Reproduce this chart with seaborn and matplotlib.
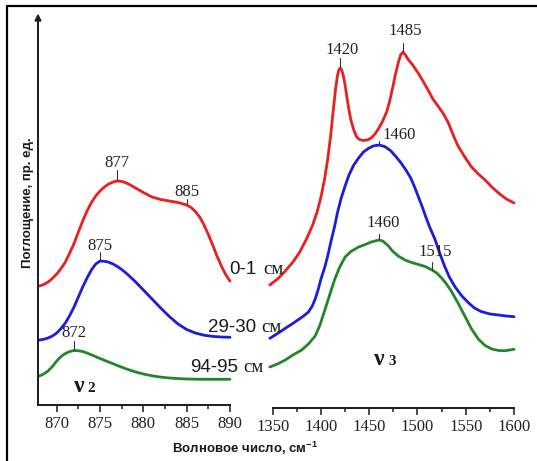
import numpy as np
import pandas as pd
import matplotlib
matplotlib.use("Agg")
import matplotlib.pyplot as plt
from matplotlib.lines import Line2D
from matplotlib.ticker import MultipleLocator
import seaborn as sns

# ---------------- data ----------------
depths = ["0-1 см", "29-30 см", "94-95 см"]
colors = ["#e8201f", "#1c1cdc", "#23872a"]

# nu2 region (wavenumber, absorbance)
nu2_wn_top = [868.0, 868.5, 869.0, 869.5, 870.0, 870.5, 871.0, 871.5, 872.0, 872.5,
              873.0, 873.5, 874.0, 874.5, 875.0, 875.5, 876.0, 876.5, 877.0, 877.5,
              878.0, 878.5, 879.0, 880.0, 881.0, 882.0, 883.0, 884.0, 885.0, 885.5,
              886.0, 886.5, 887.0, 887.5, 888.0, 888.5, 889.0, 889.5, 890.0]
nu2_ab_top = [1.190, 1.205, 1.230, 1.265, 1.310, 1.365, 1.430, 1.520, 1.615, 1.730,
              1.840, 1.940, 2.025, 2.090, 2.140, 2.180, 2.210, 2.230, 2.240, 2.236,
              2.222, 2.200, 2.175, 2.125, 2.080, 2.055, 2.040, 2.025, 2.000, 1.975,
              1.935, 1.880, 1.800, 1.705, 1.600, 1.490, 1.390, 1.305, 1.240]

nu2_wn_mid = [868.0, 868.5, 869.0, 869.5, 870.0, 870.5, 871.0, 871.5, 872.0, 872.5,
              873.0, 873.5, 874.0, 874.5, 875.0, 875.5, 876.0, 876.5, 877.0, 877.5,
              878.0, 879.0, 880.0, 881.0, 882.0, 883.0, 884.0, 885.0, 886.0, 887.0,
              888.0, 889.0, 890.0]
nu2_ab_mid = [0.650, 0.657, 0.670, 0.690, 0.720, 0.765, 0.820, 0.895, 0.980, 1.080,
              1.180, 1.270, 1.350, 1.410, 1.440, 1.437, 1.428, 1.410, 1.385, 1.355,
              1.320, 1.240, 1.150, 1.060, 0.970, 0.885, 0.810, 0.755, 0.720, 0.698,
              0.686, 0.680, 0.677]

nu2_wn_low = [868.0, 868.5, 869.0, 869.5, 870.0, 870.5, 871.0, 871.5, 872.0, 872.5,
              873.0, 873.5, 874.0, 875.0, 876.0, 877.0, 878.0, 879.0, 880.0, 881.0,
              882.0, 883.0, 884.0, 885.0, 886.0, 888.0, 890.0]
nu2_ab_low = [0.290, 0.310, 0.340, 0.385, 0.440, 0.485, 0.515, 0.535, 0.545, 0.543,
              0.535, 0.520, 0.502, 0.465, 0.430, 0.395, 0.362, 0.333, 0.310, 0.292,
              0.279, 0.270, 0.264, 0.260, 0.258, 0.257, 0.257]

# nu3 region
nu3_wn_top = [1347, 1355, 1363, 1371, 1378, 1385, 1391, 1396, 1400, 1404, 1407, 1410,
              1413, 1415, 1417, 1418.5, 1420, 1421.5, 1423, 1425, 1427, 1429, 1431, 1434,
              1437, 1440, 1444, 1448, 1452, 1456, 1460, 1464, 1468, 1471, 1474, 1477,
              1480, 1482.5, 1485, 1487.5, 1490, 1495, 1500, 1505, 1511, 1516, 1522, 1527,
              1532, 1537, 1542, 1549, 1556, 1563, 1570, 1577, 1584, 1592, 1600]
nu3_ab_top = [1.20, 1.26, 1.34, 1.43, 1.53, 1.66, 1.79, 1.93, 2.08, 2.27, 2.46, 2.69,
              2.97, 3.15, 3.29, 3.35, 3.37, 3.35, 3.30, 3.20, 3.07, 2.95, 2.85, 2.75,
              2.68, 2.655, 2.645, 2.65, 2.67, 2.71, 2.77, 2.84, 2.93, 3.03, 3.16, 3.30,
              3.42, 3.50, 3.53, 3.50, 3.46, 3.40, 3.33, 3.25, 3.15, 3.06, 2.98, 2.91,
              2.82, 2.70, 2.59, 2.48, 2.38, 2.31, 2.25, 2.18, 2.12, 2.06, 2.02]

nu3_wn_mid = [1347, 1355, 1363, 1370, 1376, 1382, 1387, 1391, 1394, 1397, 1400, 1404,
              1407, 1410, 1414, 1417, 1421, 1425, 1429, 1434, 1439, 1444, 1449, 1454,
              1460, 1466, 1472, 1478, 1483, 1488, 1493, 1497, 1501, 1505, 1509, 1513,
              1518, 1523, 1528, 1533, 1539, 1546, 1553, 1559, 1566, 1575, 1584, 1592, 1600]
nu3_ab_mid = [0.667, 0.715, 0.767, 0.81, 0.85, 0.89, 0.93, 0.99, 1.06, 1.15, 1.26, 1.38,
              1.49, 1.62, 1.78, 1.92, 2.07, 2.19, 2.30, 2.40, 2.47, 2.53, 2.565, 2.59,
              2.60, 2.585, 2.545, 2.48, 2.42, 2.35, 2.27, 2.18, 2.08, 1.98, 1.87, 1.77,
              1.66, 1.52, 1.39, 1.28, 1.18, 1.09, 1.02, 0.97, 0.935, 0.91, 0.90, 0.89, 0.883]

nu3_wn_low = [1347, 1355, 1363, 1371, 1380, 1387, 1394, 1399, 1404, 1409, 1414, 1419,
              1425, 1431, 1439, 1446, 1452, 1456, 1460, 1464, 1467, 1470, 1474, 1480,
              1487, 1494, 1501, 1508, 1515, 1520, 1525, 1530, 1535, 1542, 1549, 1556,
              1563, 1570, 1577, 1584, 1591, 1600]
nu3_ab_low = [0.38, 0.41, 0.45, 0.50, 0.55, 0.61, 0.69, 0.80, 0.95, 1.10, 1.25, 1.37,
              1.48, 1.535, 1.58, 1.605, 1.63, 1.64, 1.65, 1.64, 1.615, 1.59, 1.54, 1.49,
              1.45, 1.425, 1.405, 1.385, 1.35, 1.32, 1.27, 1.21, 1.14, 1.02, 0.89, 0.76,
              0.66, 0.595, 0.56, 0.545, 0.543, 0.557]

# labelled band positions, per depth
nu2_peaks = [[877, 885], [875], [872]]
nu3_peaks = [[1420, 1485], [1460], [1460, 1515]]

nu2_ticks = [870, 875, 880, 885, 890]
nu3_ticks = [1350, 1400, 1450, 1500, 1550, 1600]

mode_labels = ["2", "3"]


def long_frame(wns, abss):
    parts = []
    for d, w, a in zip(depths, wns, abss):
        parts.append(pd.DataFrame({"wn": w, "ab": a, "depth": d}))
    return pd.concat(parts, ignore_index=True)


df2 = long_frame([nu2_wn_top, nu2_wn_mid, nu2_wn_low], [nu2_ab_top, nu2_ab_mid, nu2_ab_low])
df3 = long_frame([nu3_wn_top, nu3_wn_mid, nu3_wn_low], [nu3_ab_top, nu3_ab_mid, nu3_ab_low])

# ---------------- style ----------------
sns.set_theme(style="white")
plt.rcParams["font.family"] = ["Liberation Serif", "DejaVu Serif"]
SANS = ["Liberation Sans", "DejaVu Sans"]
SERIF = ["Liberation Serif", "DejaVu Serif"]
INK = "#1a1a1a"

W, H = 537, 461
fig = plt.figure(figsize=(W / 100, H / 100), dpi=100)
fig.patch.set_facecolor("white")

axL = fig.add_axes([38 / W, 1 - 405 / H, 192 / W, 388 / H])
axR = fig.add_axes([268.84 / W, 1 - 405 / H, 246.13 / W, 388 / H])
palette = dict(zip(depths, colors))

for ax, df in ((axL, df2), (axR, df3)):
    sns.lineplot(data=df, x="wn", y="ab", hue="depth", palette=palette, ax=ax,
                 estimator=None, sort=False, legend=False, linewidth=2.0)
    for ln in ax.lines:
        ln.set_clip_on(False)
        ln.set_solid_joinstyle("round")
        ln.set_solid_capstyle("round")
    ax.set_facecolor("none")
    ax.set_ylim(0, 3.88)
    ax.set_yticks([])
    ax.set_xlabel("")
    ax.set_ylabel("")
    for s in ("top", "right", "left"):
        ax.spines[s].set_visible(False)
    ax.spines["bottom"].set_color(INK)
    ax.spines["bottom"].set_linewidth(1.4)
    ax.tick_params(axis="x", which="major", direction="out", length=5, width=1.1,
                   color=INK, labelsize=12, pad=3, labelcolor="#222222", bottom=True)
    ax.tick_params(axis="x", which="minor", direction="out", length=3.2, width=1.1,
                   color=INK, bottom=True)

axL.set_xlim(867.84, 890)
axL.set_xticks(nu2_ticks)
axL.xaxis.set_minor_locator(MultipleLocator(2.5))
axL.set_xticklabels([str(t) for t in nu2_ticks], fontfamily=SERIF, fontsize=12)

axR.set_xlim(1346, 1601)
axR.set_xticks(nu3_ticks)
axR.xaxis.set_minor_locator(MultipleLocator(25))
axR.set_xticklabels([str(t) for t in nu3_ticks], fontfamily=SERIF, fontsize=12)
axR.spines["bottom"].set_bounds(1350, 1600)
axR.spines["bottom"].set_position(("outward", 2.2))

# y axis drawn as an arrow
axL.annotate("", xy=(0, 1.009), xytext=(0, 0), xycoords="axes fraction",
             arrowprops=dict(arrowstyle="-|>", color=INK, lw=1.4, mutation_scale=9,
                             shrinkA=0, shrinkB=0))

# ---------------- band labels ----------------
# (text dx px, tick top px above curve, baseline px above curve)
nu2_marks = [[(0, 11, 14), (0, 6, 9)], [(0, 9, 11)], [(0, 10, 13.5)]]
nu3_marks = [[(2, 10, 14), (2, 9, 17)], [(20, 4, 6)], [(4, 6, 13), (3, 8, 14)]]

for ax, wns, abss, peaks, marks in (
        (axL, [nu2_wn_top, nu2_wn_mid, nu2_wn_low], [nu2_ab_top, nu2_ab_mid, nu2_ab_low], nu2_peaks, nu2_marks),
        (axR, [nu3_wn_top, nu3_wn_mid, nu3_wn_low], [nu3_ab_top, nu3_ab_mid, nu3_ab_low], nu3_peaks, nu3_marks)):
    for w, a, pk, mk in zip(wns, abss, peaks, marks):
        for p, (dx, tick_top, base) in zip(pk, mk):
            yv = np.interp(p, w, a)
            ax.plot([p, p], [yv + 0.005, yv + tick_top / 100], color="#333333", lw=0.8,
                    clip_on=False)
            ax.annotate(str(p), xy=(p, yv + base / 100), xytext=(dx * 0.72, 0),
                        textcoords="offset points", ha="center", va="baseline",
                        fontsize=12, fontfamily=SERIF, color="#222222",
                        annotation_clip=False)

# ---------------- depth labels ----------------
depth_text_pos = [(229, 263, 274), (208, 261, 332), (190, 243, 372)]
for d, (x0, x1, yb) in zip(depths, depth_text_pos):
    num, unit = d.split(" ")
    fig.text(x0 / W, 1 - yb / H, num, ha="left", va="baseline", fontsize=13.5,
             fontfamily=SANS, color=INK)
    fig.text(x1 / W, 1 - yb / H, unit, ha="left", va="baseline", fontsize=13.5,
             fontfamily=SERIF, color=INK)

# vibration mode labels (nu2, nu3)
mode_pos = [(74, 87.5, 392), (374, 388, 365)]
for sym, (x0, x1, yb) in zip(mode_labels, mode_pos):
    fig.text(x0 / W, 1 - yb / H, "ν", ha="left", va="baseline", fontsize=17,
             fontweight="bold", fontfamily=SERIF, color=INK)
    fig.text(x1 / W, 1 - yb / H, sym, ha="left", va="baseline", fontsize=11,
             fontweight="bold", fontfamily=SERIF, color=INK)

# axis titles
fig.text(245 / W, 1 - 453 / H, "Волновое число, см$^{\\mathregular{-1}}$", ha="center",
         va="baseline", fontsize=9.5, fontweight="bold", fontfamily=SANS, color=INK)
fig.text(28 / W, 1 - 203 / H, "Поглощение, пр. ед.", rotation=90, ha="center",
         va="center", fontsize=9.5, fontweight="bold", fontfamily=SANS, color=INK)

# frame
fig.add_artist(Line2D([7 / W, 1.0], [1 - 6 / H, 1 - 6 / H], color="black", lw=1.6))
fig.add_artist(Line2D([7 / W, 7 / W], [0.0, 1 - 6 / H], color="black", lw=1.6))

fig.savefig("out.png", dpi=100, facecolor="white")
